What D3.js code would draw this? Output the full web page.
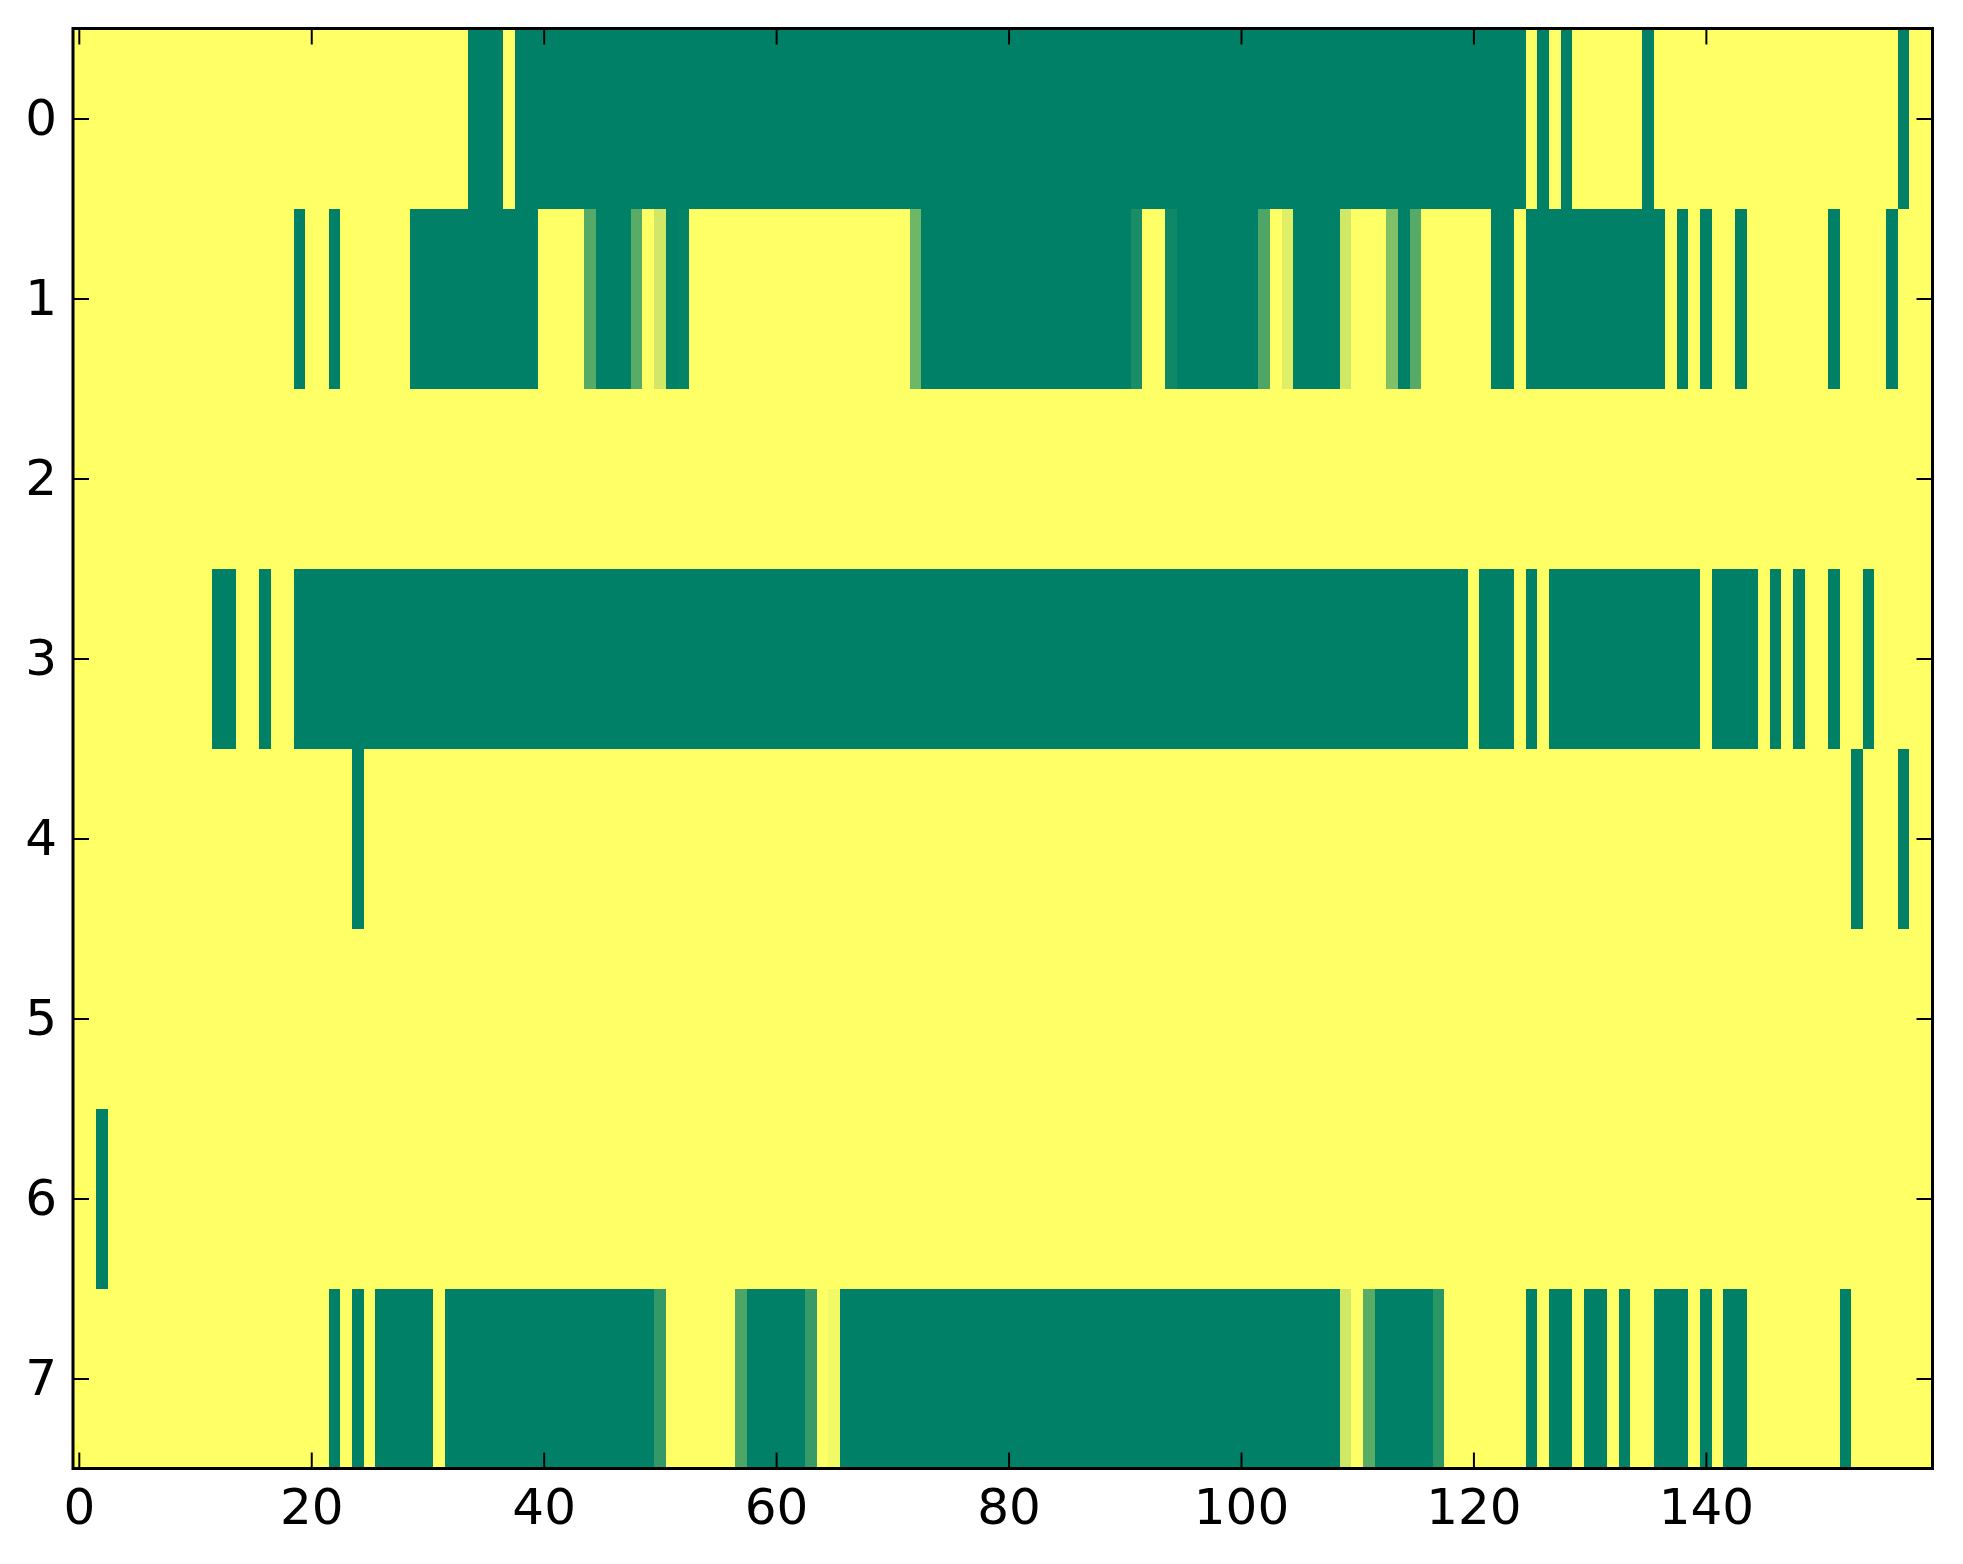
<!DOCTYPE html>
<html>
<head>
<meta charset="utf-8">
<script src="https://cdn.jsdelivr.net/npm/d3@7"></script>
<style>
  body { margin: 0; background: #fff; }
  svg text { font-family: "DejaVu Sans", sans-serif; }
</style>
</head>
<body>
<svg id="heat" width="1963" height="1564"></svg>
<script>
// rows of the matrix, 160 cells each (0 = green, 1 = yellow)
var row0 = [
  1,1,1,1,1,1,1,1,1,1,1,1,1,1,1,1,1,1,1,1,
  1,1,1,1,1,1,1,1,1,1,1,1,1,1,0,0,0,1,0,0,
  0,0,0,0,0,0,0,0,0,0,0,0,0,0,0,0,0,0,0,0,
  0,0,0,0,0,0,0,0,0,0,0,0,0,0,0,0,0,0,0,0,
  0,0,0,0,0,0,0,0,0,0,0,0,0,0,0,0,0,0,0,0,
  0,0,0,0,0,0,0,0,0,0,0,0,0,0,0,0,0,0,0,0,
  0,0,0,0,0,1,0,1,0,1,1,1,1,1,1,0,1,1,1,1,
  1,1,1,1,1,1,1,1,1,1,1,1,1,1,1,1,1,0,1,1];
var row1 = [
  1,1,1,1,1,1,1,1,1,1,1,1,1,1,1,1,1,1,1,0,
  1,1,0,1,1,1,1,1,1,0,0,0,0,0,0,0,0,0,0,0,
  1,1,1,1,0.33,0,0,0,0.35,1,0.82,0,0.02,1,1,1,1,1,1,1,
  1,1,1,1,1,1,1,1,1,1,1,1,0.43,0,0,0,0,0,0,0,
  0,0,0,0,0,0,0,0,0,0,0,0.1,1,1,0.06,0,0,0,0,0,
  0,0,0.3,1,0.87,0,0,0,0,0.82,1,1,1,0.5,0,0.33,1,1,1,1,
  1,1,0,0,1,0,0,0,0,0,0,0,0,0,0,0,0,1,0,1,
  0,1,1,0,1,1,1,1,1,1,1,0,1,1,1,1,0,1,1,1];
var row2 = [
  1,1,1,1,1,1,1,1,1,1,1,1,1,1,1,1,1,1,1,1,
  1,1,1,1,1,1,1,1,1,1,1,1,1,1,1,1,1,1,1,1,
  1,1,1,1,1,1,1,1,1,1,1,1,1,1,1,1,1,1,1,1,
  1,1,1,1,1,1,1,1,1,1,1,1,1,1,1,1,1,1,1,1,
  1,1,1,1,1,1,1,1,1,1,1,1,1,1,1,1,1,1,1,1,
  1,1,1,1,1,1,1,1,1,1,1,1,1,1,1,1,1,1,1,1,
  1,1,1,1,1,1,1,1,1,1,1,1,1,1,1,1,1,1,1,1,
  1,1,1,1,1,1,1,1,1,1,1,1,1,1,1,1,1,1,1,1];
var row3 = [
  1,1,1,1,1,1,1,1,1,1,1,1,0,0,1,1,0,1,1,0,
  0,0,0,0,0,0,0,0,0,0,0,0,0,0,0,0,0,0,0,0,
  0,0,0,0,0,0,0,0,0,0,0,0,0,0,0,0,0,0,0,0,
  0,0,0,0,0,0,0,0,0,0,0,0,0,0,0,0,0,0,0,0,
  0,0,0,0,0,0,0,0,0,0,0,0,0,0,0,0,0,0,0,0,
  0,0,0,0,0,0,0,0,0,0,0,0,0,0,0,0,0,0,0,0,
  1,0,0,0,1,0,1,0,0,0,0,0,0,0,0,0,0,0,0,0,
  1,0,0,0,0,1,0,1,0,1,1,0,1,1,0,1,1,1,1,1];
var row4 = [
  1,1,1,1,1,1,1,1,1,1,1,1,1,1,1,1,1,1,1,1,
  1,1,1,1,0,1,1,1,1,1,1,1,1,1,1,1,1,1,1,1,
  1,1,1,1,1,1,1,1,1,1,1,1,1,1,1,1,1,1,1,1,
  1,1,1,1,1,1,1,1,1,1,1,1,1,1,1,1,1,1,1,1,
  1,1,1,1,1,1,1,1,1,1,1,1,1,1,1,1,1,1,1,1,
  1,1,1,1,1,1,1,1,1,1,1,1,1,1,1,1,1,1,1,1,
  1,1,1,1,1,1,1,1,1,1,1,1,1,1,1,1,1,1,1,1,
  1,1,1,1,1,1,1,1,1,1,1,1,1,0,1,1,1,0,1,1];
var row5 = [
  1,1,1,1,1,1,1,1,1,1,1,1,1,1,1,1,1,1,1,1,
  1,1,1,1,1,1,1,1,1,1,1,1,1,1,1,1,1,1,1,1,
  1,1,1,1,1,1,1,1,1,1,1,1,1,1,1,1,1,1,1,1,
  1,1,1,1,1,1,1,1,1,1,1,1,1,1,1,1,1,1,1,1,
  1,1,1,1,1,1,1,1,1,1,1,1,1,1,1,1,1,1,1,1,
  1,1,1,1,1,1,1,1,1,1,1,1,1,1,1,1,1,1,1,1,
  1,1,1,1,1,1,1,1,1,1,1,1,1,1,1,1,1,1,1,1,
  1,1,1,1,1,1,1,1,1,1,1,1,1,1,1,1,1,1,1,1];
var row6 = [
  1,1,0,1,1,1,1,1,1,1,1,1,1,1,1,1,1,1,1,1,
  1,1,1,1,1,1,1,1,1,1,1,1,1,1,1,1,1,1,1,1,
  1,1,1,1,1,1,1,1,1,1,1,1,1,1,1,1,1,1,1,1,
  1,1,1,1,1,1,1,1,1,1,1,1,1,1,1,1,1,1,1,1,
  1,1,1,1,1,1,1,1,1,1,1,1,1,1,1,1,1,1,1,1,
  1,1,1,1,1,1,1,1,1,1,1,1,1,1,1,1,1,1,1,1,
  1,1,1,1,1,1,1,1,1,1,1,1,1,1,1,1,1,1,1,1,
  1,1,1,1,1,1,1,1,1,1,1,1,1,1,1,1,1,1,1,1];
var row7 = [
  1,1,1,1,1,1,1,1,1,1,1,1,1,1,1,1,1,1,1,1,
  1,1,0,1,0,1,0,0,0,0,0,1,0,0,0,0,0,0,0,0,
  0,0,0,0,0,0,0,0,0,0,0.2,1,1,1,1,1,1,0.3,0,0,
  0,0,0,0.21,1,0.95,0,0,0,0,0,0,0,0,0,0,0,0,0,0,
  0,0,0,0,0,0,0,0,0,0,0,0,0,0,0,0,0,0,0,0,
  0,0,0,0,0,0,0,0,0,0.82,1,0.35,0,0,0,0,0,0.17,1,1,
  1,1,1,1,1,0,1,0,0,1,0,0,1,0,1,1,0,0,0,1,
  0,1,0,0,1,1,1,1,1,1,1,1,0,1,1,1,1,1,1,1];

var rows = [row0, row1, row2, row3, row4, row5, row6, row7];
var row_ticks = [0, 1, 2, 3, 4, 5, 6, 7];
var col_ticks = [0, 20, 40, 60, 80, 100, 120, 140];

var svg = d3.select('svg#heat');

// plot box in pixels (note: "top" is a reserved window name, so use plot_*)
var plot_left = 73, plot_right = 1932.5, plot_top = 28.5, plot_bottom = 1468.5;
var x = d3.scaleLinear().domain([-0.5, row0.length - 0.5]).range([plot_left, plot_right]);
var y = d3.scaleLinear().domain([-0.5, rows.length - 0.5]).range([plot_top, plot_bottom]);

// matplotlib "summer": r = v, g = 0.5 + v/2, b = 0.4
var color = d3.scaleLinear().domain([0, 1]).range(["#008066", "#ffff66"]);

// CELLS
var cells = [];
rows.forEach(function(r, j){
    r.forEach(function(v, i){ cells.push({row: j, col: i, v: v}); });
});

svg.append('g')
    .attr('shape-rendering', 'crispEdges')
  .selectAll('rect')
  .data(cells)
  .enter().append('rect')
    .attr('x', function(d){ return x(d.col - 0.5); })
    .attr('y', function(d){ return y(d.row - 0.5); })
    .attr('width', function(d){ return x(d.col + 0.5) - x(d.col - 0.5) + 0.5; })
    .attr('height', function(d){ return y(d.row + 0.5) - y(d.row - 0.5) + 0.5; })
    .attr('fill', function(d){ return color(d.v); });

// AXES (ticks point inward, on all four sides)
function style_axis(g){
    g.select('.domain').remove();
    g.selectAll('.tick line').attr('stroke', '#000').attr('stroke-width', 2);
    g.selectAll('.tick text').attr('fill', '#000')
        .style('font-family', '"DejaVu Sans", sans-serif').style('font-size', '50px');
}

svg.append('g').attr('transform', 'translate(0,' + plot_bottom + ')')
    .call(d3.axisBottom(x).tickValues(col_ticks).tickSize(-16).tickPadding(20))
    .call(style_axis);
svg.append('g').attr('transform', 'translate(0,' + plot_top + ')')
    .call(d3.axisTop(x).tickValues(col_ticks).tickSize(-16).tickFormat(''))
    .call(style_axis);
svg.append('g').attr('transform', 'translate(' + plot_left + ',0)')
    .call(d3.axisLeft(y).tickValues(row_ticks).tickSize(-16).tickPadding(16))
    .call(style_axis);
svg.append('g').attr('transform', 'translate(' + plot_right + ',0)')
    .call(d3.axisRight(y).tickValues(row_ticks).tickSize(-16).tickFormat(''))
    .call(style_axis);

// frame
svg.append('rect')
    .attr('x', plot_left).attr('y', plot_top)
    .attr('width', plot_right - plot_left).attr('height', plot_bottom - plot_top)
    .attr('fill', 'none').attr('stroke', '#000').attr('stroke-width', 3);
</script>
</body>
</html>
